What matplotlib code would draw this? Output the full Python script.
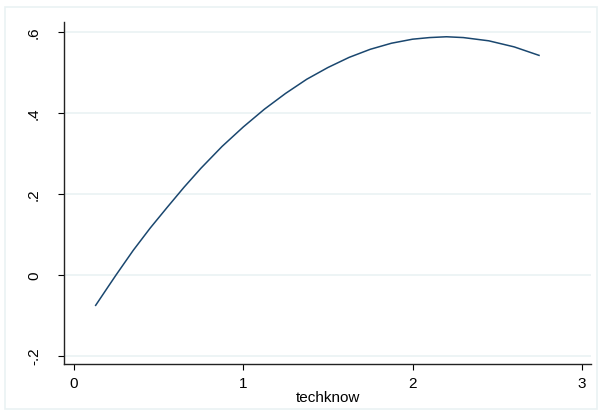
import matplotlib
matplotlib.use("Agg")
import matplotlib.pyplot as plt
from matplotlib.patches import Rectangle

# Data
techknow = [0.128, 0.20, 0.25, 0.35, 0.45, 0.55, 0.65, 0.75, 0.875, 1.0, 1.125, 1.25,
            1.375, 1.5, 1.625, 1.75, 1.875, 2.0, 2.1, 2.2, 2.3, 2.45, 2.6, 2.747]
fitted = [-0.076, -0.031, 0.000, 0.060, 0.115, 0.166, 0.216, 0.263, 0.317, 0.365, 0.409, 0.448,
          0.483, 0.512, 0.537, 0.557, 0.572, 0.582, 0.586, 0.588, 0.586, 0.578, 0.563, 0.542]

xticks = [0, 1, 2, 3]
xticklabels = ["0", "1", "2", "3"]
yticks = [-0.2, 0, 0.2, 0.4, 0.6]
yticklabels = ["-.2", "0", ".2", ".4", ".6"]
xlabel = "techknow"

plt.rcParams['font.family'] = ['Liberation Sans', 'DejaVu Sans']

W, H = 601, 414
fig = plt.figure(figsize=(W / 100, H / 100), dpi=100)
fig.patch.set_facecolor("white")
fig.patches.append(Rectangle((5 / W, 1 - 410 / H), (597 - 5) / W, (410 - 8) / H,
                             transform=fig.transFigure, fill=False,
                             edgecolor="#eaf2f3", linewidth=1.2))

left, right, top, bottom = 64, 591, 23, 365
ax = fig.add_axes([left / W, 1 - bottom / H, (right - left) / W, (bottom - top) / H])
ax.plot(techknow, fitted, color="#1a476f", linewidth=1.1)

ax.set_xlim(-0.059, 3.054)
ax.set_ylim(-0.221, 0.6245)
ax.set_xticks(xticks)
ax.set_xticklabels(xticklabels)
ax.set_yticks(yticks)
ax.set_yticklabels(yticklabels, rotation=90, va="center")
ax.tick_params(axis="x", direction="out", length=4, width=0.8, pad=5, labelsize=11, colors="black")
ax.tick_params(axis="y", direction="out", length=4.5, width=0.8, pad=12, labelsize=11, colors="black")
ax.grid(axis="y", color="#eaf2f3", linewidth=1.2)
ax.set_axisbelow(True)
for s in ["top", "right"]:
    ax.spines[s].set_visible(False)
for s in ["left", "bottom"]:
    ax.spines[s].set_color("#222222")
    ax.spines[s].set_linewidth(1.0)
ax.set_xlabel(xlabel, fontsize=11, labelpad=0)

fig.savefig("out.png", dpi=100)
